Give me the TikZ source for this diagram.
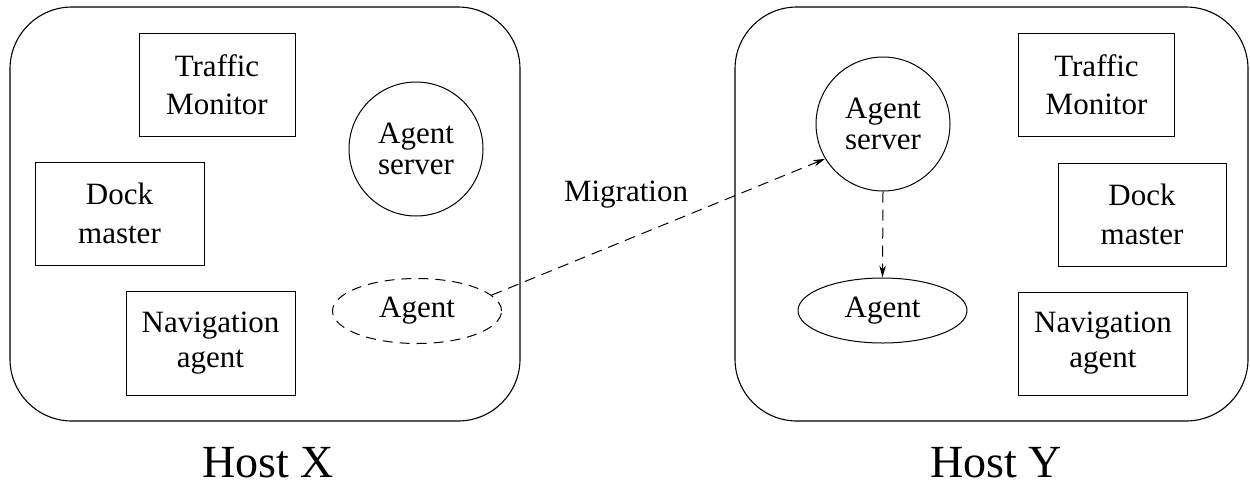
\documentclass[tikz,border=0pt]{standalone}
\usepackage{fontspec}
\setmainfont{Liberation Serif}
\usetikzlibrary{arrows.meta,shapes.geometric}
\tikzset{
  host/.style={draw, line width=1.1pt, rounded corners=62pt, inner sep=0pt},
  boxnode/.style={draw, line width=1pt, inner sep=0pt, align=center},
  srvnode/.style={draw, circle, line width=1pt, inner sep=0pt, minimum size=134pt, align=center, font=\fontsize{31}{31}\selectfont},
  agentnode/.style={draw, ellipse, line width=1pt, inner sep=0pt, minimum width=169pt, minimum height=65pt, font=\fontsize{31}{36}\selectfont},
  migline/.style={line width=1pt, dash pattern=on 11pt off 7pt},
  tip/.style={-{Stealth[length=12pt,width=6.5pt]}},
  hostlabel/.style={anchor=base, inner sep=0pt, font=\fontsize{46}{54}\selectfont},
}
\begin{document}
\begin{tikzpicture}[x=1pt,y=-1pt]
\useasboundingbox (0,0) rectangle (1250,488);
% host boxes
\node[host, minimum width=510pt, minimum height=414pt] (hx) at (265,214) {};
\node[host, minimum width=513pt, minimum height=414pt] (hy) at (991.5,214) {};
% Host X contents
\node[boxnode, minimum width=156pt, minimum height=103pt, font=\fontsize{31}{38}\selectfont] (tmL) at (217,84.5) {Traffic\\Monitor};
\node[boxnode, minimum width=169pt, minimum height=103pt, font=\fontsize{31}{38.5}\selectfont] (dmL) at (119.5,213.5) {Dock\\master};
\node[boxnode, minimum width=169pt, minimum height=104pt, font=\fontsize{31}{35}\selectfont] (naL) at (210.5,343) {Navigation\\agent};
\node[srvnode] (sL) at (416,149) {Agent\\server};
\node[agentnode, dash pattern=on 10pt off 7pt] (aL) at (417,311) {Agent};
% Host Y contents
\node[srvnode] (sR) at (883,124) {Agent\\server};
\node[agentnode] (aR) at (882.5,310.5) {Agent};
\node[boxnode, minimum width=156pt, minimum height=103pt, font=\fontsize{31}{38}\selectfont] (tmR) at (1096.5,84.5) {Traffic\\Monitor};
\node[boxnode, minimum width=168pt, minimum height=103pt, font=\fontsize{31}{38.5}\selectfont] (dmR) at (1142,214.5) {Dock\\master};
\node[boxnode, minimum width=169pt, minimum height=103pt, font=\fontsize{31}{35}\selectfont] (naR) at (1103,343.5) {Navigation\\agent};
% connectors
\draw[migline, tip] (aL.12) -- (sR.211);
\draw[migline, tip] (sR.south) -- (aR.north);
\node[anchor=base, font=\fontsize{31}{36}\selectfont] (mig) at (626,201) {Migration};
% labels
\node[hostlabel] (lx) at (268,477) {Host X};
\node[hostlabel] (ly) at (996,477) {Host Y};
\end{tikzpicture}
\end{document}
